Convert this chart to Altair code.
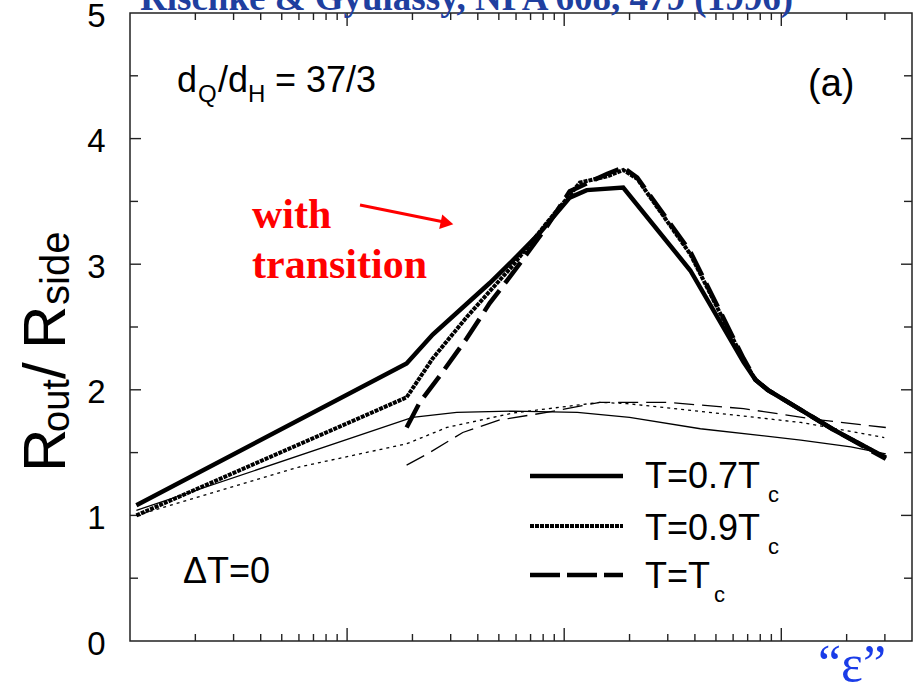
import altair as alt
import pandas as pd

# ---------------- data ----------------
# thick curves: with transition
x_07 = [0.107, 1.88, 2.48, 4.54, 5.8, 7.73, 10.6, 12.7, 18.7, 38.1, 67, 76, 86.5, 123, 175, 303]
y_07 = [1.08, 2.21, 2.44, 2.85, 3.03, 3.25, 3.53, 3.59, 3.61, 2.95, 2.22, 2.08, 2.00, 1.84, 1.68, 1.46]

x_09 = [0.107, 1.88, 2.48, 3.56, 5.8, 8.32, 10.6, 11.8, 15.8, 18.7, 21.7, 38.1, 67, 76, 86.5, 123, 175, 303]
y_09 = [1.00, 1.94, 2.25, 2.58, 2.99, 3.33, 3.55, 3.65, 3.70, 3.75, 3.68, 3.08, 2.24, 2.08, 2.00, 1.84, 1.68, 1.46]

x_10 = [1.88, 2.16, 2.75, 3.56, 4.54, 5.8, 8.32, 10.6, 15.8, 18.7, 21.7, 38.1, 67, 76, 86.5, 123, 175, 303]
y_10 = [1.70, 1.90, 2.14, 2.41, 2.69, 2.93, 3.30, 3.58, 3.72, 3.77, 3.69, 3.10, 2.25, 2.08, 2.00, 1.84, 1.68, 1.45]

# thin curves: without transition
xn_07 = [0.107, 2.0, 3.2, 5.8, 11.5, 20, 42.4, 123, 209, 303]
yn_07 = [1.04, 1.78, 1.82, 1.83, 1.82, 1.78, 1.69, 1.60, 1.545, 1.49]

xn_09 = [0.107, 0.6, 1.88, 2.88, 5.8, 14.6, 19.5, 60, 123, 298]
yn_09 = [1.00, 1.385, 1.57, 1.70, 1.815, 1.90, 1.89, 1.80, 1.74, 1.62]

xn_10 = [1.88, 2.40, 3.41, 5.05, 8.3, 14.6, 29.9, 67, 150, 303]
yn_10 = [1.40, 1.50, 1.66, 1.76, 1.82, 1.90, 1.90, 1.85, 1.76, 1.70]

# ticks
x_major = [1, 10, 100]
x_minor = [0.2, 0.3, 0.4, 0.5, 0.6, 0.7, 0.8, 0.9,
           2, 3, 4, 5, 6, 7, 8, 9,
           20, 30, 40, 50, 60, 70, 80, 90, 200, 300]
y_major = [1, 2, 3, 4]
y_minor = [0.5, 1.5, 2.5, 3.5, 4.5]
y_labels = [0, 1, 2, 3, 4, 5]

W, H = 782, 628
SANS = "Liberation Sans"
SERIF = "Liberation Serif"

xs = alt.Scale(type="log", domain=[0.1, 400], nice=False)
ys = alt.Scale(domain=[0, 5], nice=False)
yaxis = alt.Axis(values=y_labels, ticks=False, tickSize=0, domain=False, grid=False,
                 labelFontSize=33, labelFont=SANS, labelColor="black",
                 labelPadding=25, labelOffset=3, title=None)


def line(xv, yv, width, dash=None):
    df = pd.DataFrame({"x": xv, "y": yv})
    kw = dict(color="black", strokeWidth=width, clip=True)
    if dash:
        kw["strokeDash"] = dash
    return alt.Chart(df).mark_line(**kw).encode(
        x=alt.X("x:Q", scale=xs, axis=None),
        y=alt.Y("y:Q", scale=ys, axis=yaxis),
        order=alt.Order("x:Q"),
    )


one = pd.DataFrame({"a": [0]})


def txt(s, x, y, size, font=SANS, color="black", bold=False, angle=None, align="left"):
    kw = dict(text=s, font=font, fontSize=size, color=color, align=align,
              baseline="alphabetic", fontWeight="bold" if bold else "normal")
    if angle is not None:
        kw["angle"] = angle
    return alt.Chart(one).mark_text(**kw).encode(x=alt.value(x), y=alt.value(y))


def xticks(vals, length):
    df = pd.DataFrame({"v": vals})
    base = alt.Chart(df).mark_rule(color="#222", strokeWidth=1.4)
    bottom = base.encode(x=alt.X("v:Q", scale=xs, axis=None), y=alt.value(H), y2=alt.value(H - length))
    top = base.encode(x=alt.X("v:Q", scale=xs, axis=None), y=alt.value(0), y2=alt.value(length))
    return [bottom, top]


def yticks(vals, length):
    df = pd.DataFrame({"v": vals})
    base = alt.Chart(df).mark_rule(color="#222", strokeWidth=1.4)
    left = base.encode(y=alt.Y("v:Q", scale=ys, axis=yaxis), x=alt.value(0), x2=alt.value(length))
    right = base.encode(y=alt.Y("v:Q", scale=ys, axis=yaxis), x=alt.value(W), x2=alt.value(W - length))
    return [left, right]


def legend_line(y, width, dash=None):
    kw = dict(color="black", strokeWidth=width)
    if dash:
        kw["strokeDash"] = dash
    return alt.Chart(one).mark_rule(**kw).encode(x=alt.value(400), x2=alt.value(493),
                                                y=alt.value(y), y2=alt.value(y))


layers = []
layers += xticks(x_major, 13) + xticks(x_minor, 7)
layers += yticks(y_major, 11) + yticks(y_minor, 8)

# thin curves
layers.append(line(xn_07, yn_07, 1.3))
layers.append(line(xn_09, yn_09, 1.3, [3, 4]))
layers.append(line(xn_10, yn_10, 1.3, [20, 8]))
# thick curves
layers.append(line(x_07, y_07, 4.5))
layers.append(line(x_09, y_09, 4.0, [4, 1]))
layers.append(line(x_10, y_10, 4.5, [26, 9]))

# legend
layers.append(legend_line(463, 4.5))
layers.append(legend_line(513, 4.0, [4, 1]))
layers.append(legend_line(562, 4.5, [30, 7]))
layers.append(txt("T=0.7T", 515, 475, 36))
layers.append(txt("c", 638, 489, 22))
layers.append(txt("T=0.9T", 515, 527, 36))
layers.append(txt("c", 638, 541, 22))
layers.append(txt("T=T", 515, 575, 36))
layers.append(txt("c", 584, 589, 22))

# annotations
layers.append(txt("d", 47, 79, 36))
layers.append(txt("Q", 68, 89, 24))
layers.append(txt("/d", 88, 79, 36))
layers.append(txt("H", 118, 89, 24))
layers.append(txt("= 37/3", 145, 79, 36))
layers.append(txt("(a)", 678, 83, 38))
layers.append(txt("\u0394T=0", 53, 570, 36))

# red label and arrow
layers.append(txt("with", 122, 215, 42, font=SERIF, color="#ff0000", bold=True))
layers.append(txt("transition", 122, 265, 42, font=SERIF, color="#ff0000", bold=True))
layers.append(alt.Chart(one).mark_rule(color="#ff0000", strokeWidth=3).encode(
    x=alt.value(230), y=alt.value(192), x2=alt.value(314), y2=alt.value(209)))
layers.append(alt.Chart(one).mark_point(shape="triangle-right", filled=True, size=220,
                                        angle=12, color="#ff0000", opacity=1).encode(
    x=alt.value(317), y=alt.value(210)))

# y-axis title  R_out / R_side  (rotated)
layers.append(txt("R", -65, 459, 60, angle=270))
layers.append(txt("out", -61, 419, 38, angle=270))
layers.append(txt("/", -65, 366, 60, angle=270))
layers.append(txt("R", -65, 336, 60, angle=270))
layers.append(txt("side", -61, 292, 40, angle=270))

# blue overlays
layers.append(txt("\u201c\u03b5\u201d", 688, 668, 52, font=SERIF, color="#1a3ce8"))
layers.append(txt("Rischke & Gyulassy, NPA 608, 479 (1996)", 10, -3, 37,
                  font=SERIF, color="#1f3f9f", bold=True))

chart = alt.layer(*layers).properties(
    width=W, height=H,
    padding={"left": 130, "top": 13, "right": 2, "bottom": 51},
    autosize=alt.AutoSizeParams(type="none"),
    background="white",
).configure_view(stroke="#222", strokeWidth=1.5)

chart.save("out.html", embed_options={"renderer": "svg", "actions": False})
